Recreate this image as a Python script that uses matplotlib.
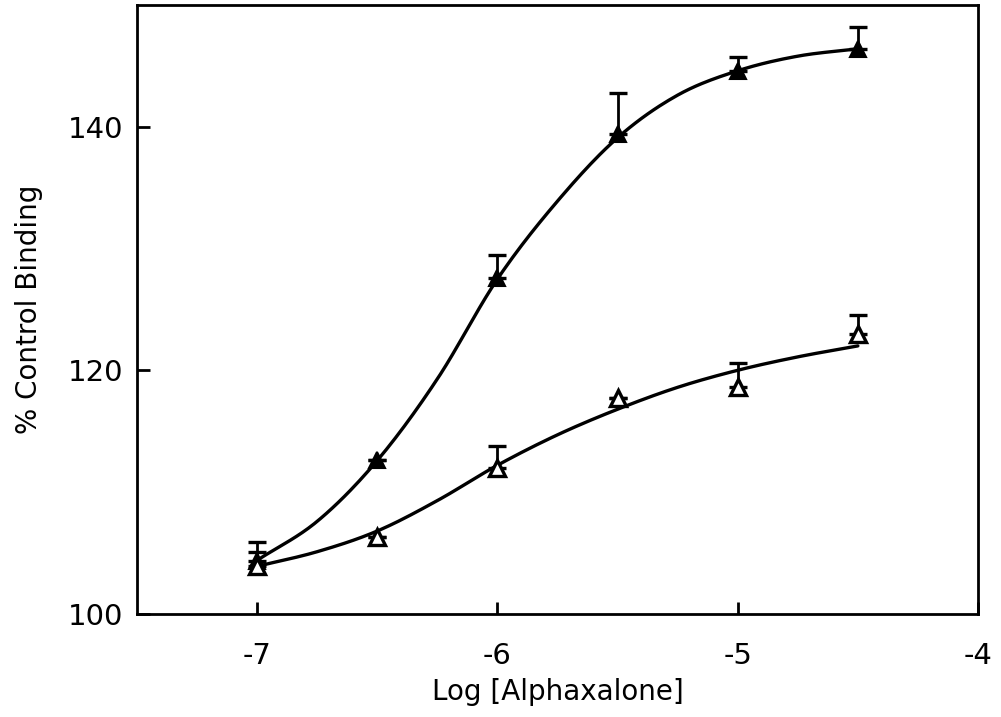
import matplotlib
matplotlib.use('Agg')
import matplotlib.pyplot as plt
import numpy as np

# log [alphaxalone]
log_conc = [-7.0, -6.5, -6.0, -5.5, -5.0, -4.5]

# filled triangles (upper series) and their upward error
binding_filled = [104.3, 112.6, 127.6, 139.4, 144.6, 146.4]
err_filled = [1.6, 0.0, 1.9, 3.4, 1.1, 1.8]

# open triangles (lower series) and their upward error
binding_open = [103.9, 106.3, 112.0, 117.7, 118.6, 123.0]
err_open = [1.2, 0.0, 1.8, 0.0, 2.0, 1.5]

# fitted curves
curve_x = [-7.0, -6.75, -6.5, -6.25, -6.0, -5.75, -5.5, -5.25, -5.0, -4.75, -4.5]
curve_filled = [104.4, 107.6, 112.6, 119.3, 127.5, 133.9, 139.1, 142.6, 144.6, 145.8, 146.4]
curve_open = [103.9, 105.1, 106.8, 109.3, 112.2, 114.7, 116.8, 118.6, 120.0, 121.1, 122.0]

x_ticks = [-7, -6, -5, -4]
x_tick_labels = ['-7', '-6', '-5', '-4']
y_ticks = [100, 120, 140]


def smooth(xs, ys, n=20):
    # catmull-rom through the read points, just so the drawn line is not kinky
    p = np.column_stack([xs, ys]).astype(float)
    p = np.vstack([2 * p[0] - p[1], p, 2 * p[-1] - p[-2]])
    out = []
    t = np.linspace(0, 1, n, endpoint=False)[:, None]
    for i in range(1, len(p) - 2):
        p0, p1, p2, p3 = p[i - 1], p[i], p[i + 1], p[i + 2]
        seg = 0.5 * ((2 * p1) + (-p0 + p2) * t + (2 * p0 - 5 * p1 + 4 * p2 - p3) * t ** 2
                     + (-p0 + 3 * p1 - 3 * p2 + p3) * t ** 3)
        out.append(seg)
    out.append(p[-2][None, :])
    out = np.vstack(out)
    return out[:, 0], out[:, 1]


fig = plt.figure(figsize=(10.01, 7.17), dpi=100)
ax = fig.add_axes([0.137, 0.144, 0.840, 0.849])

sx, sy = smooth(curve_x, curve_filled)
ax.plot(sx, sy, color='black', lw=2.4, solid_capstyle='round', zorder=2)
sx, sy = smooth(curve_x, curve_open)
ax.plot(sx, sy, color='black', lw=2.4, solid_capstyle='round', zorder=2)

# one-sided (upper) error bars
ax.errorbar(log_conc, binding_filled, yerr=[[0] * len(err_filled), err_filled],
            fmt='none', ecolor='black', elinewidth=2, capsize=6.5, capthick=2.4, zorder=3)
ax.errorbar(log_conc, binding_open, yerr=[[0] * len(err_open), err_open],
            fmt='none', ecolor='black', elinewidth=2, capsize=6.5, capthick=2.4, zorder=3)

ax.plot(log_conc, binding_filled, linestyle='none', marker='^', ms=11,
        mfc='black', mec='black', mew=1.5, zorder=4)
ax.plot(log_conc, binding_open, linestyle='none', marker='^', ms=11,
        mfc='white', mec='black', mew=2.4, zorder=4)

ax.set_xlim(-7.5, -4)
ax.set_ylim(100, 150)
ax.set_xticks(x_ticks)
ax.set_xticklabels(x_tick_labels)
ax.set_yticks(y_ticks)
ax.tick_params(direction='in', length=9, width=2, labelsize=21)
ax.tick_params(axis='x', pad=20)
ax.tick_params(axis='y', pad=10)

for s in ax.spines.values():
    s.set_linewidth(2)

ax.set_xlabel('Log [Alphaxalone]', fontsize=20, labelpad=6)
ax.set_ylabel('% Control Binding', fontsize=20, labelpad=18)

fig.savefig('out.png', dpi=100)
